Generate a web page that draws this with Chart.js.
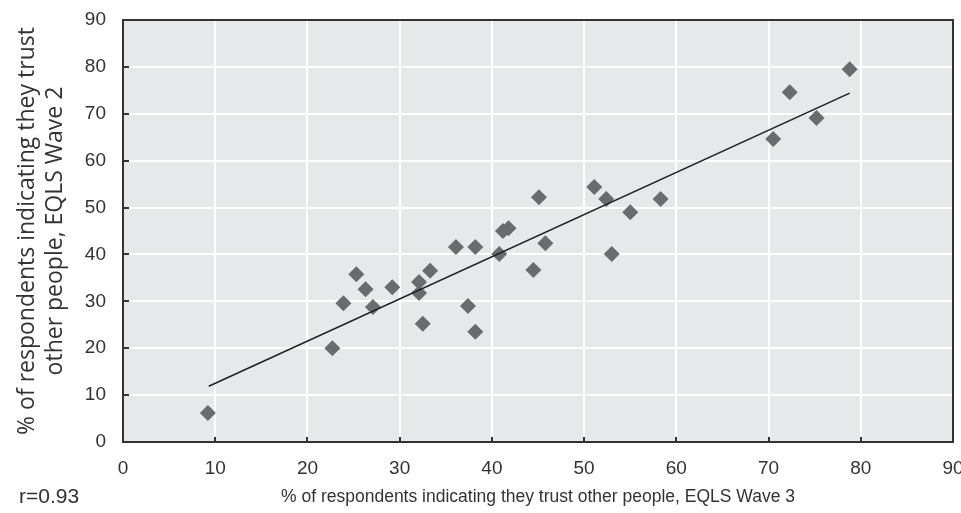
<!DOCTYPE html>
<html>
<head>
<meta charset="utf-8">
<script src="https://cdn.jsdelivr.net/npm/chart.js@4"></script>
<style>
	html, body { margin: 0; padding: 0; background: #fff; }
	.canvas-container { width: 961px; height: 513px; }
</style>
</head>
<body>
<div class="canvas-container">
	<canvas id="canvas"></canvas>
</div>
<script>
// EQLS Wave 3 (x) vs EQLS Wave 2 (y), one entry per country
var wave3 = [9.2, 22.7, 23.9, 25.3, 26.3, 27.1, 29.2, 32.1, 32.1, 33.3, 32.5, 37.4, 38.2, 40.8, 36.1,
	38.2, 41.2, 41.8, 45.1, 45.8, 44.5, 51.1, 52.4, 55.0, 53.0, 58.3, 72.3, 78.8, 75.2, 70.5];
var wave2 = [6.2, 20.0, 29.6, 35.8, 32.6, 28.8, 33.0, 34.1, 31.8, 36.5, 25.2, 29.0, 23.5, 40.1, 41.6,
	41.6, 45.0, 45.6, 52.2, 42.4, 36.7, 54.4, 51.8, 49.0, 40.1, 51.8, 74.6, 79.5, 69.1, 64.6];

// fitted line end points
var trendX = [9.3, 78.8];
var trendY = [11.9, 74.4];

var xTicks = [0, 10, 20, 30, 40, 50, 60, 70, 80, 90];
var yTicks = [0, 10, 20, 30, 40, 50, 60, 70, 80, 90];

var xTitle = "% of respondents indicating they trust other people, EQLS Wave 3";
var yTitle = ["% of respondents indicating they trust", "other people, EQLS Wave 2"];
var note = "r=0.93";

var sansFont = "'Liberation Sans', Arial, sans-serif";

function toPoints(xs, ys) {
	return xs.map((x, i) => ({ x: x, y: ys[i] }));
}

// keep edge labels from shrinking the plot
function noEdgePadding(scale) {
	scale.paddingTop = 0;
	scale.paddingRight = 0;
	scale.paddingBottom = 0;
	scale.paddingLeft = 0;
}

// plot background, frame, inner tick marks and the r note
var plotFrame = {
	id: "plotFrame",
	beforeDraw(chart) {
		const a = chart.chartArea;
		const ctx = chart.ctx;
		ctx.save();
		ctx.fillStyle = "#e7e8ea";
		ctx.fillRect(a.left, a.top, a.right - a.left, a.bottom - a.top);
		ctx.restore();
	},
	afterDatasetsDraw(chart) {
		const a = chart.chartArea;
		const ctx = chart.ctx;
		ctx.save();
		ctx.strokeStyle = "#333";
		ctx.lineWidth = 2;
		ctx.strokeRect(a.left, a.top, a.right - a.left, a.bottom - a.top);
		ctx.beginPath();
		yTicks.forEach((v) => {
			const y = Math.round(chart.scales.y.getPixelForValue(v));
			ctx.moveTo(a.left, y);
			ctx.lineTo(a.left + 6, y);
		});
		xTicks.forEach((v) => {
			const x = Math.round(chart.scales.x.getPixelForValue(v));
			ctx.moveTo(x, a.bottom);
			ctx.lineTo(x, a.bottom - 5);
		});
		ctx.stroke();
		ctx.fillStyle = "#333";
		ctx.font = "21px " + sansFont;
		ctx.textBaseline = "middle";
		ctx.fillText(note, 19, 497);
		ctx.restore();
	},
};

var ctx = document.getElementById("canvas").getContext("2d");
var chart = new Chart(ctx, {
	type: "scatter",
	data: {
		datasets: [
			{
				type: "line",
				label: "trend",
				data: toPoints(trendX, trendY),
				borderColor: "#222",
				borderWidth: 1.6,
				pointRadius: 0,
				fill: false,
				order: 0,
			},
			{
				label: "countries",
				data: toPoints(wave3, wave2),
				pointStyle: "rectRot",
				pointRadius: 8,
				pointHoverRadius: 8,
				backgroundColor: "#6a6b6e",
				borderColor: "#6a6b6e",
				borderWidth: 0,
				order: 1,
			},
		],
	},
	options: {
		responsive: true,
		maintainAspectRatio: false,
		animation: false,
		layout: { padding: { left: 0, right: 5, top: 20, bottom: 0 } },
		plugins: {
			legend: { display: false },
			tooltip: { enabled: false },
		},
		scales: {
			x: {
				type: "linear",
				min: 0,
				max: 90,
				afterBuildTicks(scale) {
					scale.ticks = xTicks.map((v) => ({ value: v }));
				},
				afterFit(scale) {
					scale.height = 71;
					noEdgePadding(scale);
				},
				grid: { color: "#fff", lineWidth: 2, drawTicks: false },
				border: { display: false },
				ticks: {
					padding: 15,
					color: "#333",
					font: { size: 19, family: sansFont },
					maxRotation: 0,
				},
				title: {
					display: true,
					text: xTitle,
					color: "#333",
					padding: { top: 0, bottom: 5 },
					font: { size: 17.5, family: sansFont, lineHeight: 1.2 },
				},
			},
			y: {
				type: "linear",
				min: 0,
				max: 90,
				afterBuildTicks(scale) {
					scale.ticks = yTicks.map((v) => ({ value: v }));
				},
				afterFit(scale) {
					scale.width = 123;
					noEdgePadding(scale);
				},
				grid: { color: "#fff", lineWidth: 2, drawTicks: false },
				border: { display: false },
				ticks: {
					padding: 17,
					color: "#333",
					font: { size: 19, family: sansFont },
				},
				title: {
					display: true,
					text: yTitle,
					color: "#333",
					padding: { top: 14, bottom: 0 },
					font: { size: 23, family: "'Open Sans', sans-serif", lineHeight: 1.2 },
				},
			},
		},
	},
	plugins: [plotFrame],
});
</script>
</body>
</html>
